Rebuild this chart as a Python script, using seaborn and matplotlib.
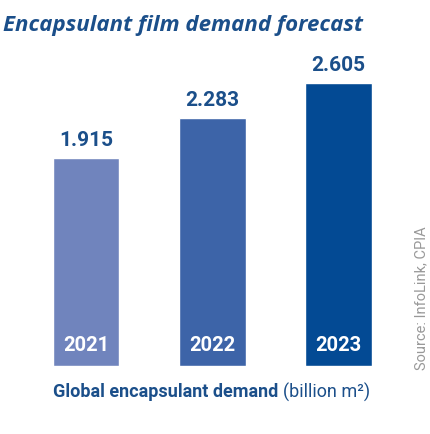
import matplotlib
matplotlib.use("Agg")
import matplotlib.pyplot as plt
import seaborn as sns
import pandas as pd

years = ["2021", "2022", "2023"]
demand = [1.915, 2.283, 2.605]
bar_colors = ["#7084bd", "#3d64a8", "#034a94"]
title_text = "Encapsulant film demand forecast"
xlabel_bold = "Global encapsulant demand"
xlabel_unit = "(billion m²)"
source_text = "Source: InfoLink, CPIA"

sns.set_theme(style="white")
plt.rcParams["font.family"] = ["Roboto", "DejaVu Sans"]

df = pd.DataFrame({"year": years, "demand": demand})

fig = plt.figure(figsize=(4.31, 4.34), dpi=100)
fig.patch.set_facecolor("white")
ax = fig.add_axes([23 / 431, 68 / 434, 378.5 / 431, 283 / 434])
sns.barplot(data=df, x="year", y="demand", hue="year", palette=bar_colors,
            width=0.528, legend=False, ax=ax, saturation=1)
ax.set_xlim(-0.5, 2.5)
ax.set_ylim(0, 2.605)
ax.axis("off")

label_color = "#1b4f8a"
for i, (y, v) in enumerate(zip(years, demand)):
    ax.annotate(f"{v:.3f}", (i, v), xytext=(0, 12.5), textcoords="offset points",
                ha="center", va="center", fontsize=15, fontweight="bold",
                color=label_color)
    ax.annotate(y, (i, 0), xytext=(0, 15), textcoords="offset points",
                ha="center", va="center", fontsize=14.5, fontweight="bold",
                color="white")

fig.text(3 / 431, 1 - 25 / 434, title_text, fontsize=16, fontweight="bold",
         fontstyle="italic", color="#1b4f8a", ha="left", va="center",
         family="Open Sans")

t1 = fig.text(53 / 431, 1 - 392 / 434, xlabel_bold + " ", fontsize=13,
              fontweight="bold", color=label_color, ha="left", va="center")
fig.canvas.draw()
bb = t1.get_window_extent()
fig.text(bb.x1 / 431, 1 - 392 / 434, xlabel_unit, fontsize=13,
         color=label_color, ha="left", va="center")

fig.text(421 / 431, 1 - 298 / 434, source_text, fontsize=10.5, rotation=90,
         color="#999999", ha="center", va="center")

fig.savefig("out.png", dpi=100, facecolor="white")
